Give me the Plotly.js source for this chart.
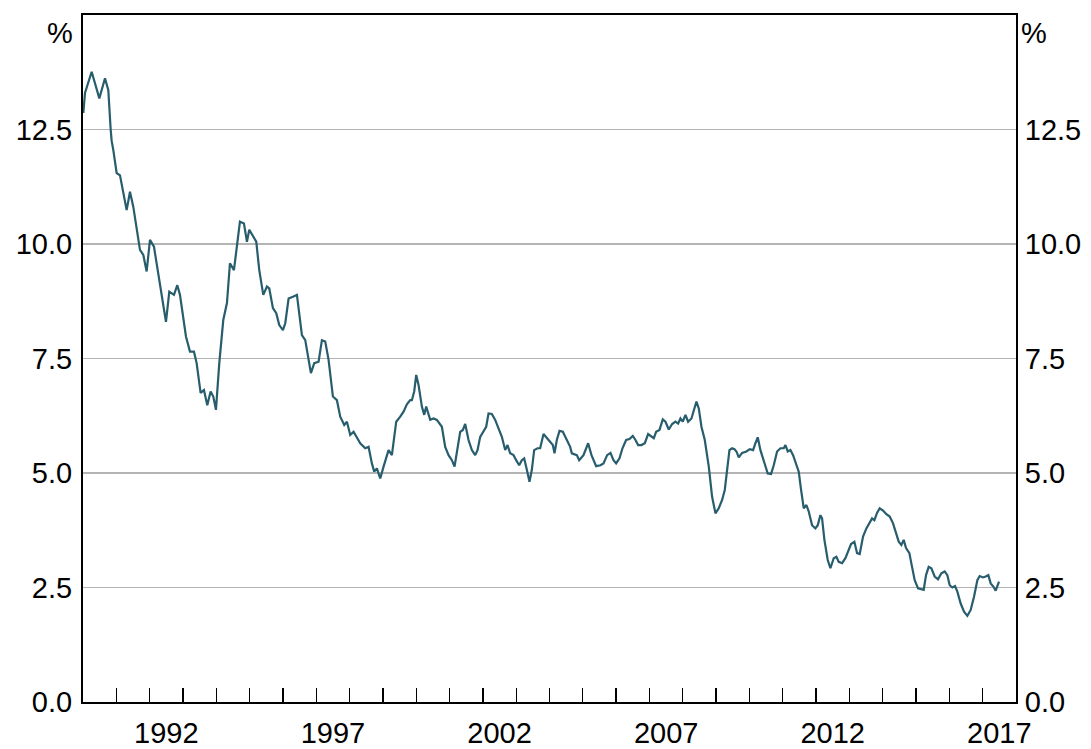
<!DOCTYPE html>
<html>
<head>
<meta charset="utf-8">
<script src="https://cdn.plot.ly/plotly-3.0.1.min.js"></script>
<style>html,body{margin:0;padding:0;background:#fff;}#chart{width:1091px;height:749px;}</style>
</head>
<body>
<div id="chart"></div>
<script>
// Decimal-year dates
const years = [1990.01,1990.06,1990.26,1990.49,1990.66,1990.76,1990.83,1990.86,1990.91,1991.01,1991.11,1991.31,1991.41,1991.51,1991.71,1991.81,1991.91,1992.01,1992.13,1992.31,1992.49,1992.59,1992.73,1992.83,1992.91,1993.09,1993.21,1993.33,1993.41,1993.53,1993.63,1993.73,1993.83,1993.91,1993.99,1994.09,1994.21,1994.32,1994.41,1994.53,1994.62,1994.71,1994.83,1994.92,1994.99,1995.10,1995.20,1995.29,1995.41,1995.52,1995.59,1995.70,1995.80,1995.89,1996.00,1996.07,1996.17,1996.30,1996.42,1996.57,1996.67,1996.84,1996.94,1997.07,1997.17,1997.27,1997.37,1997.50,1997.62,1997.72,1997.84,1997.92,1998.02,1998.12,1998.22,1998.32,1998.47,1998.57,1998.67,1998.74,1998.82,1998.92,1999.02,1999.17,1999.27,1999.40,1999.52,1999.62,1999.72,1999.82,1999.87,1999.94,2000.00,2000.07,2000.17,2000.24,2000.30,2000.42,2000.52,2000.62,2000.77,2000.87,2000.97,2001.07,2001.15,2001.24,2001.32,2001.40,2001.47,2001.57,2001.67,2001.77,2001.84,2001.92,2002.02,2002.10,2002.17,2002.27,2002.37,2002.47,2002.57,2002.67,2002.74,2002.82,2002.92,2003.00,2003.09,2003.17,2003.24,2003.32,2003.40,2003.47,2003.54,2003.64,2003.72,2003.82,2003.92,2004.02,2004.10,2004.15,2004.22,2004.30,2004.40,2004.52,2004.62,2004.67,2004.82,2004.89,2005.02,2005.16,2005.26,2005.40,2005.53,2005.62,2005.73,2005.83,2005.92,2006.00,2006.10,2006.19,2006.30,2006.40,2006.50,2006.58,2006.66,2006.76,2006.86,2006.96,2007.06,2007.13,2007.20,2007.30,2007.40,2007.48,2007.58,2007.68,2007.78,2007.86,2007.93,2008.00,2008.08,2008.16,2008.26,2008.33,2008.41,2008.48,2008.56,2008.66,2008.78,2008.88,2008.98,2009.08,2009.18,2009.26,2009.33,2009.40,2009.48,2009.55,2009.61,2009.68,2009.78,2009.91,2010.01,2010.11,2010.18,2010.25,2010.33,2010.43,2010.55,2010.65,2010.73,2010.83,2010.93,2011.03,2011.08,2011.15,2011.23,2011.31,2011.41,2011.48,2011.55,2011.63,2011.71,2011.78,2011.88,2011.98,2012.05,2012.13,2012.18,2012.25,2012.35,2012.43,2012.53,2012.61,2012.68,2012.78,2012.88,2012.95,2013.05,2013.15,2013.23,2013.31,2013.41,2013.51,2013.61,2013.68,2013.75,2013.83,2013.91,2014.01,2014.11,2014.21,2014.31,2014.38,2014.48,2014.56,2014.63,2014.70,2014.80,2014.88,2014.96,2015.06,2015.16,2015.23,2015.30,2015.38,2015.46,2015.56,2015.66,2015.76,2015.86,2015.94,2016.01,2016.09,2016.17,2016.24,2016.34,2016.44,2016.54,2016.64,2016.74,2016.84,2016.91,2017.01,2017.09,2017.17,2017.24,2017.32,2017.39,2017.44,2017.49];

// Yield values (%)
const yields = [12.86,13.30,13.76,13.18,13.62,13.36,12.50,12.25,12.05,11.55,11.50,10.74,11.14,10.81,9.87,9.76,9.40,10.09,9.94,9.14,8.30,8.96,8.89,9.10,8.89,7.98,7.65,7.65,7.40,6.75,6.81,6.48,6.78,6.67,6.38,7.40,8.34,8.71,9.58,9.43,10.02,10.49,10.45,10.05,10.31,10.16,10.05,9.43,8.89,9.07,9.03,8.60,8.49,8.23,8.12,8.27,8.81,8.85,8.89,8.01,7.90,7.18,7.40,7.43,7.90,7.87,7.47,6.67,6.59,6.23,6.05,6.12,5.83,5.90,5.76,5.65,5.54,5.57,5.21,5.03,5.10,4.88,5.14,5.50,5.39,6.12,6.23,6.34,6.50,6.59,6.59,6.78,7.14,6.92,6.45,6.27,6.45,6.16,6.19,6.16,6.01,5.57,5.39,5.28,5.14,5.57,5.90,5.94,6.07,5.72,5.50,5.39,5.50,5.79,5.90,6.01,6.30,6.29,6.16,5.98,5.79,5.50,5.61,5.43,5.39,5.28,5.17,5.28,5.32,5.07,4.81,5.07,5.50,5.54,5.54,5.85,5.76,5.68,5.61,5.43,5.72,5.92,5.90,5.72,5.57,5.43,5.39,5.28,5.39,5.65,5.39,5.15,5.17,5.21,5.39,5.44,5.28,5.21,5.32,5.54,5.72,5.74,5.81,5.72,5.61,5.61,5.65,5.85,5.79,5.76,5.90,5.94,6.17,6.12,5.95,6.07,6.12,6.08,6.19,6.12,6.27,6.12,6.19,6.34,6.56,6.41,6.01,5.72,5.14,4.48,4.12,4.23,4.41,4.63,5.07,5.50,5.54,5.52,5.47,5.34,5.44,5.47,5.52,5.50,5.65,5.78,5.50,5.25,4.99,4.98,5.17,5.47,5.54,5.54,5.61,5.47,5.50,5.39,5.17,5.03,4.63,4.23,4.30,4.16,3.86,3.79,3.86,4.08,4.01,3.54,3.10,2.92,3.14,3.17,3.06,3.03,3.14,3.28,3.45,3.50,3.25,3.23,3.61,3.79,3.94,4.01,3.97,4.13,4.23,4.18,4.10,4.05,3.90,3.72,3.50,3.43,3.54,3.36,3.25,2.95,2.66,2.48,2.46,2.45,2.77,2.95,2.92,2.74,2.68,2.81,2.85,2.77,2.55,2.50,2.53,2.41,2.15,1.97,1.88,2.01,2.30,2.66,2.75,2.72,2.74,2.77,2.59,2.52,2.43,2.55,2.63];

const yTickVals = [0, 2.5, 5, 7.5, 10, 12.5];
const yTickText = ['0.0', '2.5', '5.0', '7.5', '10.0', '12.5'];
const xLabelYears = [1992, 1997, 2002, 2007, 2012, 2017];
const yearTicks = [1991,1992,1993,1994,1995,1996,1997,1998,1999,2000,2001,2002,2003,2004,2005,2006,2007,2008,2009,2010,2011,2012,2013,2014,2015,2016,2017];

const FONT = 'Arial, "Liberation Sans", sans-serif';
const tickFont = {family: FONT, size: 29, color: '#000'};

const trace = {
  x: years, y: yields, type: 'scatter', mode: 'lines',
  line: {color: '#275d6d', width: 2.2},
  hoverinfo: 'skip', showlegend: false
};
// invisible copy so that the right-hand axis is drawn
const traceRight = {
  x: years, y: yields, type: 'scatter', mode: 'lines', yaxis: 'y2',
  line: {color: 'rgba(0,0,0,0)', width: 0}, opacity: 0,
  hoverinfo: 'skip', showlegend: false
};

const layout = {
  width: 1091, height: 749,
  margin: {l: 83, r: 75, t: 15, b: 47, pad: 0},
  paper_bgcolor: '#fff', plot_bgcolor: '#fff',
  showlegend: false,
  xaxis: {
    range: [1990, 2018], type: 'linear',
    tickmode: 'array',
    tickvals: xLabelYears.map(v => v + 0.5),
    ticktext: xLabelYears.map(String),
    ticks: '', showgrid: false, zeroline: false,
    showline: true, mirror: true, linecolor: '#000', linewidth: 2,
    tickfont: tickFont, ticklabelstandoff: 4,
    minor: {tickmode: 'array', tickvals: yearTicks, ticks: 'inside', ticklen: 14, tickwidth: 1.3, tickcolor: '#000', showgrid: false}
  },
  yaxis: {
    range: [0, 15], tickmode: 'array', tickvals: yTickVals, ticktext: yTickText,
    ticks: '', showgrid: true, gridcolor: '#b4b4b4', gridwidth: 1.5,
    zeroline: false, showline: true, mirror: true, linecolor: '#000', linewidth: 2,
    tickfont: tickFont, ticklabelstandoff: 3
  },
  yaxis2: {
    range: [0, 15], overlaying: 'y', side: 'right', tickmode: 'array',
    tickvals: yTickVals, ticktext: yTickText, ticks: '', showgrid: false,
    zeroline: false, showline: true, linecolor: '#000', linewidth: 2,
    tickfont: tickFont, ticklabelstandoff: 1
  },
  annotations: [
    {text: '%', xref: 'paper', yref: 'paper', x: 0, y: 1, xanchor: 'right', yanchor: 'middle', xshift: -8, yshift: -18, showarrow: false, font: tickFont},
    {text: '%', xref: 'paper', yref: 'paper', x: 1, y: 1, xanchor: 'left', yanchor: 'middle', xshift: 3, yshift: -18, showarrow: false, font: tickFont}
  ]
};

Plotly.newPlot('chart', [trace, traceRight], layout, {displayModeBar: false, staticPlot: true});
</script>
</body>
</html>
